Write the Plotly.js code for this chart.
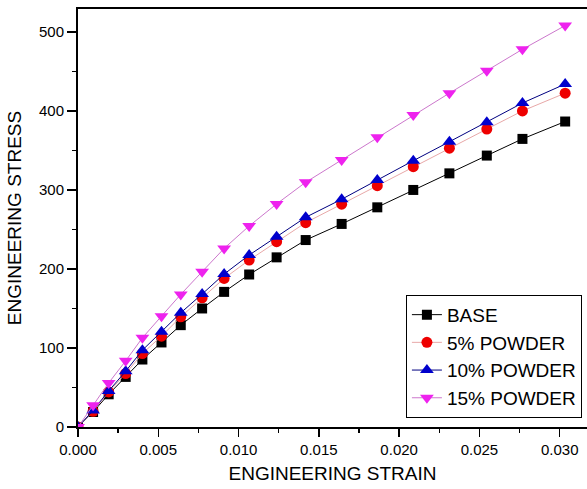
<!DOCTYPE html>
<html>
<head>
<meta charset="utf-8">
<script src="https://cdn.plot.ly/plotly-3.0.1.min.js"></script>
<style>html,body{margin:0;padding:0;background:#fff;overflow:hidden;}</style>
</head>
<body>
<div id="chart" style="width:587px;height:489px;"></div>
<script>
const strain = [0, 0.00094, 0.00191, 0.00297, 0.00401, 0.0052, 0.0064, 0.00773, 0.0091, 0.01066, 0.01237, 0.01418, 0.01642, 0.01864, 0.02088, 0.02313, 0.02546, 0.02768, 0.03034];
const base    = [0, 19, 41.4, 63.4, 85.4, 107, 128.9, 150, 171, 193, 214.7, 236.6, 257, 278, 300, 321, 343.5, 364.6, 386.6];
const p5      = [0, 19.9, 44.4, 67.7, 93, 115, 139.4, 163.5, 188, 211.3, 234.5, 258.6, 282, 305.4, 329.5, 352.8, 377, 400, 422.5];
const p10     = [0, 21, 45.6, 70.6, 97.2, 120.4, 144.5, 168.2, 193.5, 217.6, 240.8, 265.4, 288.2, 312.7, 337, 361, 385.8, 410, 434];
const p15     = [0, 27.5, 55.8, 83.7, 112.8, 140.3, 167.8, 196.5, 226, 254.4, 282.3, 309.7, 338, 366.8, 395, 422.5, 451, 478, 508];
const names = ["BASE", "5% POWDER", "10% POWDER", "15% POWDER"];

const font = "'Liberation Sans', Arial, sans-serif";
function tr(y, name, sym, mcol, lcol, sz) {
  return {x: strain, y: y, name: name, type: 'scatter', mode: 'lines+markers',
    line: {color: lcol, width: 1},
    marker: {symbol: sym, color: mcol, size: sz, line: {width: 0}}};
}
const data = [
  tr(base, names[0], 'square', '#000000', '#000000', 10),
  tr(p5, names[1], 'circle', '#ee0000', '#e8a8a8', 11),
  tr(p10, names[2], 'triangle-up', '#0000cc', '#000080', 12),
  tr(p15, names[3], 'triangle-down', '#ee22ee', '#cc77cc', 12)
];
const layout = {
  width: 587, height: 489,
  margin: {l: 78, r: 0, t: 9, b: 62},
  paper_bgcolor: '#fff', plot_bgcolor: '#fff',
  font: {family: font, color: '#000'},
  showlegend: true,
  legend: {x: 0.99, xanchor: 'right', y: 0.022, yanchor: 'bottom',
    bordercolor: '#000', borderwidth: 1, bgcolor: '#fff',
    font: {size: 19, family: font}, tracegroupgap: 0},
  xaxis: {range: [0, 0.0317], showgrid: false, zeroline: false,
    showline: true, linecolor: '#000', linewidth: 2, mirror: true,
    ticks: 'outside', ticklen: 8, tickwidth: 1.5, tickcolor: '#000',
    dtick: 0.005, tickformat: '.3f',
    minor: {dtick: 0.0025, ticks: 'outside', ticklen: 4, tickcolor: '#000', tickwidth: 1.5},
    tickfont: {size: 15, family: font},
    title: {text: 'ENGINEERING STRAIN', font: {size: 19, family: font}, standoff: 10}},
  yaxis: {range: [0, 529], showgrid: false, zeroline: false,
    showline: true, linecolor: '#000', linewidth: 2, mirror: false,
    ticks: 'outside', ticklen: 9, tickwidth: 1.5, tickcolor: '#000',
    dtick: 100,
    minor: {dtick: 50, ticks: 'outside', ticklen: 4, tickcolor: '#000', tickwidth: 1.5},
    tickfont: {size: 15, family: font},
    title: {text: 'ENGINEERING STRESS', font: {size: 19, family: font}, standoff: 12}}
};
Plotly.newPlot('chart', data, layout, {displayModeBar: false, staticPlot: true});
</script>
</body>
</html>
